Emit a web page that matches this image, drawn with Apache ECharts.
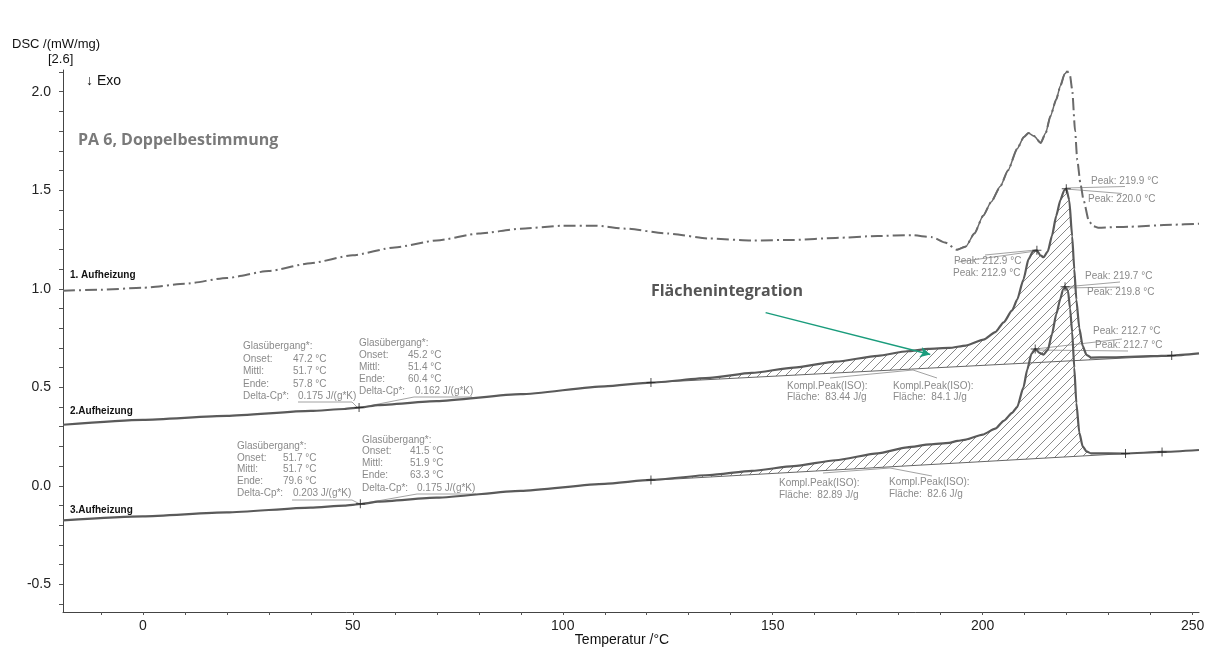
<!DOCTYPE html>
<html><head><meta charset="utf-8">
<script src="https://cdn.jsdelivr.net/npm/echarts@6/dist/echarts.min.js"></script>
<style>html,body{margin:0;padding:0;background:#fff}#c{width:1213px;height:653px}</style>
</head><body><div id="c"></div>
<script>
// ---------- DATA ----------
const curve1 = [[-19,0.99],[-10,0.995],[0,1.005],[10,1.025],[20,1.055],[30,1.09],[40,1.13],[50,1.17],[60,1.21],[70,1.245],[80,1.28],[90,1.305],[100,1.32],[108,1.32],[115,1.305],[125,1.28],[135,1.255],[145,1.245],[155,1.248],[165,1.258],[175,1.268],[183,1.272],[188,1.262],[191,1.235],[193.9,1.198],[196,1.215],[198,1.28],[200.1,1.37],[202,1.44],[204.2,1.52],[206,1.60],[208.2,1.71],[209.8,1.77],[210.9,1.79],[212.2,1.775],[213.8,1.74],[215,1.79],[216.1,1.875],[217.5,1.96],[218.5,2.03],[219.5,2.09],[220.1,2.105],[220.8,2.08],[221.3,2.01],[222,1.80],[222.5,1.655],[223.3,1.53],[224,1.45],[225.3,1.342],[226.3,1.318],[227.5,1.31],[235,1.315],[245,1.325],[251.5,1.33]];
const curve2 = [[-19,0.31],[0,0.335],[20,0.355],[40,0.38],[48,0.39],[52,0.398],[56,0.41],[70,0.43],[90,0.465],[110,0.505],[121,0.524],[135,0.548],[145,0.573],[155,0.60],[165,0.63],[175,0.66],[182,0.683],[187,0.695],[192,0.70],[196,0.712],[200.2,0.742],[203,0.78],[205,0.83],[207,0.89],[208.2,0.945],[209.7,1.047],[210.9,1.15],[212,1.19],[212.9,1.195],[213.7,1.17],[214.5,1.16],[215.5,1.19],[216.5,1.27],[217.5,1.37],[218.5,1.45],[219.4,1.50],[219.9,1.508],[220.6,1.45],[221.3,1.266],[221.8,1.10],[222.3,0.945],[223,0.80],[223.8,0.71],[224.7,0.665],[225.8,0.651],[230,0.652],[240,0.658],[245,0.661],[251.5,0.672]];
const curve3 = [[-19,-0.175],[0,-0.155],[20,-0.135],[40,-0.11],[48,-0.10],[52,-0.092],[56,-0.08],[70,-0.06],[90,-0.025],[110,0.01],[121,0.03],[135,0.055],[145,0.076],[155,0.10],[165,0.13],[175,0.165],[182,0.195],[187.5,0.21],[192,0.218],[194,0.228],[196,0.235],[200,0.26],[203,0.29],[205,0.33],[207,0.37],[208.2,0.40],[209.7,0.50],[210.6,0.59],[211.6,0.67],[212.5,0.695],[213.5,0.675],[214.5,0.666],[215.5,0.69],[216.5,0.77],[217.5,0.87],[218.5,0.95],[219.1,0.995],[219.6,1.01],[220.3,0.99],[220.8,0.90],[221.3,0.78],[221.8,0.60],[222.3,0.42],[223,0.27],[223.8,0.20],[224.7,0.175],[225.8,0.165],[234,0.164],[242.7,0.172],[251.5,0.182]];
const baseline2 = [[121,0.524],[245,0.661]];
const baseline3 = [[121,0.028],[234,0.164]];
const integrationRange = [121, 225.8];
const meltRange1 = [193.9, 220.3];
const markers = [[51.5,0.398],[121,0.524],[245,0.661],[212.9,1.195],[219.9,1.508],[51.8,-0.091],[121,0.03],[234,0.164],[242.7,0.172],[212.5,0.695],[219.6,1.01]];
const arrowFromTo = [[148.3,0.879],[187.5,0.666]];
const xTickLabels = [0,50,100,150,200,250];
const xTicks = [-10,0,10,20,30,40,50,60,70,80,90,100,110,120,130,140,150,160,170,180,190,200,210,220,230,240,250];
const yTickLabels = [-0.5,0,0.5,1,1.5,2];
const yTicks = [-0.6,-0.5,-0.4,-0.3,-0.2,-0.1,0,0.1,0.2,0.3,0.4,0.5,0.6,0.7,0.8,0.9,1.0,1.1,1.2,1.3,1.4,1.5,1.6,1.7,1.8,1.9,2.0,2.1];

// ---------- TEXTS ----------
const gtBlocks = [
  {x:243, vx:293, dx:298, ys:[346,359,371.5,384,396.5], vals:['47.2 °C','51.7 °C','57.8 °C','0.175 J/(g*K)']},
  {x:359, vx:408, dx:415, ys:[343,355,367,379.5,391.5], vals:['45.2 °C','51.4 °C','60.4 °C','0.162 J/(g*K)']},
  {x:237, vx:283, dx:293, ys:[446.5,458,469.5,481,493.5], vals:['51.7 °C','51.7 °C','79.6 °C','0.203 J/(g*K)']},
  {x:362, vx:410, dx:417, ys:[440,451.5,463.5,475.5,488], vals:['41.5 °C','51.9 °C','63.3 °C','0.175 J/(g*K)']}
];
const gtLabels = ['Glasübergang*:','Onset:','Mittl:','Ende:','Delta-Cp*:'];
const peakLabels = [
  [1091,181,'Peak: 219.9 °C'],[1088,199,'Peak: 220.0 °C'],
  [954,261,'Peak: 212.9 °C'],[953,273,'Peak: 212.9 °C'],
  [1085,276,'Peak: 219.7 °C'],[1087,292,'Peak: 219.8 °C'],
  [1093,331,'Peak: 212.7 °C'],[1095,345,'Peak: 212.7 °C']
];
const areaLabels = [
  [787,386,'Kompl.Peak(ISO):'],[787,397,'Fläche:  83.44 J/g'],
  [893,386,'Kompl.Peak(ISO):'],[893,397,'Fläche:  84.1 J/g'],
  [779,483,'Kompl.Peak(ISO):'],[779,495,'Fläche:  82.89 J/g'],
  [889,482,'Kompl.Peak(ISO):'],[889,494,'Fläche:  82.6 J/g']
];
const leaders = [
  [[298,402],[352,402],[358,408]],[[358,408],[414,397],[472,397]],
  [[292,500],[352,500],[360,504]],[[360,504],[417,494],[476,494]],
  [[1066,188],[1125,186.5]],[[1066,189],[1122,193.5]],
  [[1036,250],[985,255]],[[1036,251],[958,262]],
  [[1064,287],[1120,282]],[[1064,288],[1120,287]],
  [[1035,349],[1122,339]],[[1035,350],[1128,351]],
  [[830,378],[913,370],[937,378]],
  [[823,473],[890,468],[932,476]]
];

// ---------- hatch pattern ----------
const pc = document.createElement('canvas'); pc.width = 9; pc.height = 9;
const g = pc.getContext('2d'); g.strokeStyle = '#8a8a8a'; g.lineWidth = 1;
g.beginPath(); g.moveTo(0,9); g.lineTo(9,0); g.moveTo(-1,1); g.lineTo(1,-1); g.moveTo(8,10); g.lineTo(10,8); g.stroke();
const hatch = {image: pc, repeat: 'repeat'};

function hatchSeries(curve, base){
  const slope = (base[1][1]-base[0][1])/(base[1][0]-base[0][0]);
  const bAt = x => base[0][1] + slope*(x-base[0][0]);
  return {
    type:'custom', coordinateSystem:'cartesian2d', silent:true, z:1, clip:true,
    data:[[integrationRange[0], bAt(integrationRange[0])]],
    renderItem(params, api){
      const sel = curve.filter(p => p[0] >= integrationRange[0] && p[0] <= integrationRange[1]);
      const pts = sel.map(p => api.coord(p));
      const x0 = sel[0][0], x1 = sel[sel.length-1][0];
      pts.push(api.coord([x1, bAt(x1)]));
      pts.push(api.coord([x0, bAt(x0)]));
      return {type:'polygon', shape:{points:pts}, style:{fill:hatch, stroke:null}};
    }
  };
}

const FONT = '"Liberation Sans", Arial, sans-serif';
const graphic = [];
function txt(x,y,t,font,fill,align){ graphic.push({type:'text', x:x, y:y, silent:true, style:{text:t, font:font, fill:fill, align:align||'left', verticalAlign:'middle'}}); }
txt(12,44,'DSC /(mW/mg)','13px '+FONT,'#111');
txt(48,59,'[2.6]','13px '+FONT,'#111');
txt(86,81,'↓ Exo','14px '+FONT,'#111');
txt(78,140,'PA 6, Doppelbestimmung','bold 16px "Open Sans", sans-serif','#7a7a7a');
txt(803,291,'Flächenintegration','bold 16px "Open Sans", sans-serif','#555','right');
txt(70,275,'1. Aufheizung','bold 10px '+FONT,'#111');
txt(70,411,'2.Aufheizung','bold 10px '+FONT,'#111');
txt(70,510,'3.Aufheizung','bold 10px '+FONT,'#111');
txt(622,640,'Temperatur /°C','14px '+FONT,'#111','center');
const GRAY = '#8a8a8a', SF = '10px '+FONT;
gtBlocks.forEach(b => {
  gtLabels.forEach((l,i) => txt(b.x, b.ys[i], l, SF, GRAY));
  b.vals.forEach((v,i) => txt(i===3 ? b.dx : b.vx, b.ys[i+1], v, SF, GRAY));
});
peakLabels.forEach(p => txt(p[0],p[1],p[2],SF,GRAY));
areaLabels.forEach(p => txt(p[0],p[1],p[2],SF,GRAY));
leaders.forEach(pts => graphic.push({type:'polyline', silent:true, shape:{points:pts}, style:{stroke:'#8a8a8a', lineWidth:0.8, fill:null}}));

const chart = echarts.init(document.getElementById('c'), null, {renderer:'canvas'});
const lineBase = {type:'line', showSymbol:false, symbol:'none', silent:true, animation:false};
chart.setOption({
  animation:false,
  backgroundColor:'#fff',
  grid:{left:63, right:14, top:70, bottom:41},
  xAxis:{type:'value', min:-19, max:251.5,
    axisLine:{onZero:false, lineStyle:{color:'#444', width:1}},
    axisTick:{show:true, length:3, lineStyle:{color:'#555'}, customValues:xTicks},
    axisLabel:{customValues:xTickLabels, margin:7, color:'#222', fontSize:14, fontFamily:FONT},
    splitLine:{show:false}},
  yAxis:{type:'value', min:-0.64, max:2.11,
    axisLine:{show:true, onZero:false, lineStyle:{color:'#444', width:1}},
    axisTick:{show:true, length:4, lineStyle:{color:'#555'}, customValues:yTicks},
    axisLabel:{customValues:yTickLabels, margin:12, color:'#222', fontSize:14, fontFamily:FONT,
      formatter: v => Number(v).toFixed(1)},
    splitLine:{show:false}},
  graphic: graphic,
  series:[
    hatchSeries(curve2, baseline2),
    hatchSeries(curve3, baseline3),
    Object.assign({}, lineBase, {data:baseline2, z:2, lineStyle:{color:'#666', width:1}}),
    Object.assign({}, lineBase, {data:baseline3, z:2, lineStyle:{color:'#666', width:1}}),
    Object.assign({}, lineBase, {data:curve1, z:3, smooth:0.2, smoothMonotone:'x',
      lineStyle:{color:'#6a6a6a', width:2, type:[12,4,2,4]}}),
    Object.assign({}, lineBase, {data:curve1.filter(p => p[0] >= meltRange1[0] && p[0] <= meltRange1[1]), z:3, smooth:0.2, smoothMonotone:'x',
      lineStyle:{color:'#6a6a6a', width:1.5}}),
    Object.assign({}, lineBase, {data:curve2, z:4, smooth:0.2, smoothMonotone:'x', lineStyle:{color:'#5a5a5a', width:2.2},
      markLine:{silent:true, symbol:['none','arrow'], symbolSize:[8,10], animation:false,
        label:{show:false}, lineStyle:{color:'#1a9c7c', width:1.5, type:'solid'},
        data:[[{coord:arrowFromTo[0]},{coord:arrowFromTo[1]}]]}}),
    Object.assign({}, lineBase, {data:curve3, z:4, smooth:0.2, smoothMonotone:'x', lineStyle:{color:'#5a5a5a', width:2.2}}),
    {type:'scatter', data:markers, z:6, silent:true, symbol:'path://M4,0H5V4H9V5H5V9H4V5H0V4H4Z', symbolSize:9, itemStyle:{color:'#222'}}
  ]
});
</script></body></html>
